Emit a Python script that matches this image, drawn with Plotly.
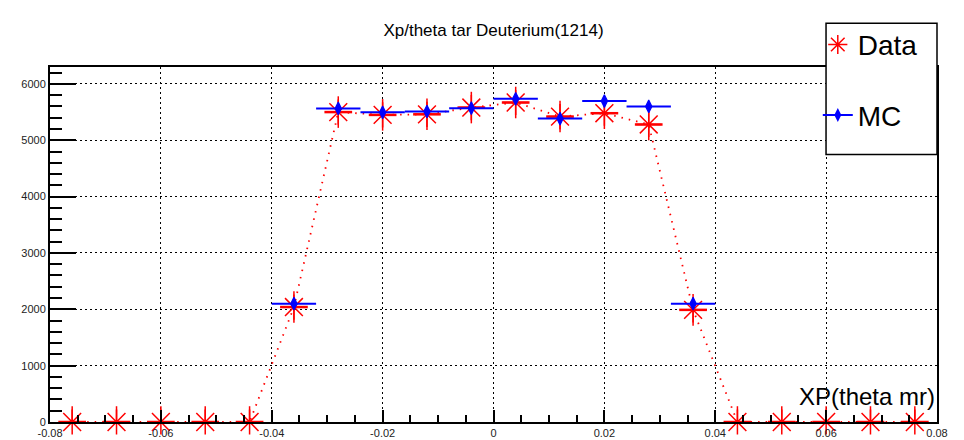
import plotly.graph_objects as go

# ---- data ----
bin_centers = [-0.076, -0.068, -0.060, -0.052, -0.044, -0.036, -0.028, -0.020, -0.012, -0.004,
               0.004, 0.012, 0.020, 0.028, 0.036, 0.044, 0.052, 0.060, 0.068, 0.076]
data_counts = [0, 0, 0, 0, 0, 2040, 5500, 5450, 5460, 5580,
               5670, 5420, 5480, 5280, 1990, 0, 0, 0, 0, 0]
mc_counts = [None, None, None, None, None, 2100, 5565, 5495, 5510, 5570,
             5735, 5385, 5695, 5600, 2100, None, None, None, None, None]
bin_half_width = 0.004
data_x_err = 0.0025

x_tick_vals = [-0.08, -0.06, -0.04, -0.02, 0, 0.02, 0.04, 0.06, 0.08]
x_tick_text = ["-0.08", "-0.06", "-0.04", "-0.02", "0", "0.02", "0.04", "0.06", "0.08"]
y_tick_vals = [0, 1000, 2000, 3000, 4000, 5000, 6000]
y_tick_text = ["0", "1000", "2000", "3000", "4000", "5000", "6000"]

title_text = "Xp/theta tar Deuterium(1214)"
x_title = "XP(theta mr)"

FONT = "Liberation Sans, Arial, Helvetica, sans-serif"
RED = "#ff0000"
BLUE = "#0000ff"

# page body has an 8px margin; size the figure so it fits the 964x440 window
W, H = 956, 432

fig = go.Figure()

# dotted connecting line of data
fig.add_trace(go.Scatter(
    x=bin_centers, y=data_counts, mode="lines",
    line=dict(color=RED, width=1.8, dash="1.5px,6px"),
    showlegend=False, hoverinfo="skip", cliponaxis=False,
))

# data markers
fig.add_trace(go.Scatter(
    x=bin_centers, y=data_counts, mode="markers", name="Data",
    legendgroup="a",
    marker=dict(symbol="asterisk-open", size=21, color=RED,
                line=dict(color=RED, width=1.5)),
    error_x=dict(type="constant", value=data_x_err, color=RED, thickness=2.5, width=0),
    error_y=dict(type="constant", value=280, color=RED, thickness=1.5, width=0),
    cliponaxis=False,
))

# MC
fig.add_trace(go.Scatter(
    x=bin_centers, y=mc_counts, mode="markers", name="MC",
    showlegend=False,
    marker=dict(symbol="diamond-tall", size=9, color=BLUE,
                line=dict(color=BLUE, width=1.2)),
    error_x=dict(type="constant", value=bin_half_width, color=BLUE, thickness=2, width=0),
    cliponaxis=False,
))
# legend entry for MC (marker + line)
fig.add_trace(go.Scatter(
    x=[None], y=[None], mode="lines+markers", name="MC", legendgroup="b",
    marker=dict(symbol="diamond-tall", size=10, color=BLUE),
    line=dict(color=BLUE, width=2),
))

# legend box
fig.add_shape(type="rect", xref="paper", yref="paper",
              x0=0.8749, x1=1.0, y0=0.7534, y1=1.1233,
              fillcolor="white", line=dict(color="black", width=1.5), layer="above")

fig.add_annotation(text=x_title, xref="paper", yref="paper", x=1.0, y=0.071,
                   xanchor="right", yanchor="middle", showarrow=False,
                   font=dict(family=FONT, size=24, color="black"))

fig.update_layout(
    template="none",
    width=W, height=H,
    margin=dict(l=42, r=27, t=49, b=18),
    paper_bgcolor="white", plot_bgcolor="white",
    font=dict(family=FONT, color="black"),
    title=dict(text=title_text, x=0.5, xref="paper", y=1 - 22 / H, yanchor="middle",
               font=dict(family=FONT, size=17, color="black")),
    legend=dict(x=0.8656, y=1.133, xanchor="left", yanchor="top",
                bgcolor="rgba(0,0,0,0)", borderwidth=0,
                font=dict(family=FONT, size=28, color="black"),
                traceorder="grouped", tracegroupgap=31),
    xaxis=dict(range=[-0.08, 0.08], tickvals=x_tick_vals, ticktext=x_tick_text,
               ticks="inside", ticklen=12, tickwidth=1.5, tickcolor="black",
               minor=dict(ticks="inside", ticklen=7, dtick=0.005, tickwidth=1.5,
                          tickcolor="black", showgrid=False),
               showgrid=True, gridcolor="black", gridwidth=1, griddash="1.5px,3.5px",
               zeroline=False, showline=True, linecolor="black", linewidth=2, mirror=True,
               tickfont=dict(family=FONT, size=11, color="#222"), automargin=False),
    yaxis=dict(range=[0, 6300], tickvals=y_tick_vals, ticktext=y_tick_text,
               ticks="inside", ticklen=26, tickwidth=1.5, tickcolor="black",
               minor=dict(ticks="inside", ticklen=12, dtick=200, tickwidth=1.5,
                          tickcolor="black", showgrid=False),
               showgrid=True, gridcolor="black", gridwidth=1, griddash="1.5px,3.5px",
               zeroline=False, showline=True, linecolor="black", linewidth=2, mirror=True,
               tickfont=dict(family=FONT, size=11, color="#222"), automargin=False),
)

fig.write_html("out.html")
